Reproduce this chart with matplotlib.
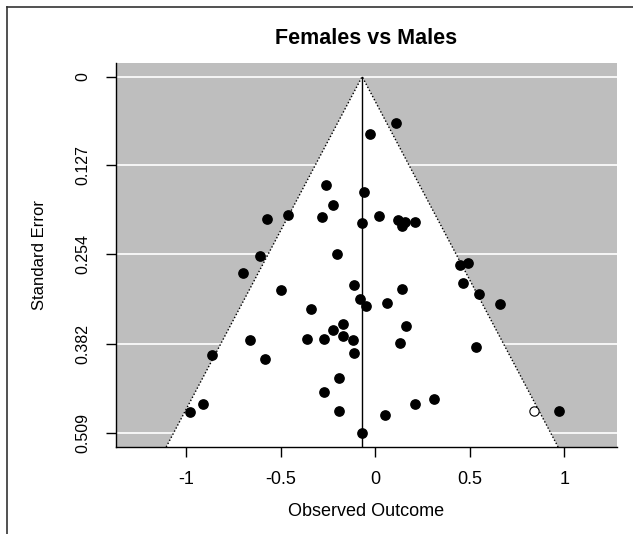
import matplotlib
matplotlib.use("Agg")
from matplotlib import pyplot as plt
from matplotlib.lines import Line2D
import numpy as np

plt.rcParams['font.family'] = ['Liberation Sans', 'DejaVu Sans']

# observed outcomes and standard errors of the studies
effects = [0.110, -0.031, -0.261, -0.062, -0.222, -0.464, -0.575, -0.284, 0.019,
           -0.070, 0.122, 0.140, 0.159, 0.211, -0.201, -0.613, -0.703, 0.449,
           0.490, 0.462, 0.551, 0.662, 0.139, -0.113, -0.502, -0.082, -0.051,
           0.060, -0.343, -0.170, -0.223, -0.171, -0.120, -0.271, -0.361, -0.662,
           0.161, 0.130, 0.531, -0.111, -0.862, -0.583, -0.192, -0.272, -0.911,
           -0.983, -0.192, 0.050, 0.210, 0.311, 0.971, -0.070]
ses = [0.067, 0.082, 0.155, 0.165, 0.184, 0.198, 0.203, 0.200, 0.199,
       0.209, 0.205, 0.213, 0.208, 0.208, 0.253, 0.256, 0.280, 0.269,
       0.266, 0.295, 0.311, 0.325, 0.304, 0.298, 0.305, 0.318, 0.328,
       0.323, 0.332, 0.354, 0.362, 0.370, 0.376, 0.375, 0.375, 0.376,
       0.356, 0.380, 0.386, 0.395, 0.397, 0.403, 0.430, 0.450, 0.468,
       0.479, 0.477, 0.484, 0.467, 0.460, 0.478, 0.509]

# imputed (trim and fill) study
filled_effects = [0.840]
filled_ses = [0.478]

estimate = -0.07
se_max = 0.509
se_ticks = [0, 0.127, 0.254, 0.382, 0.509]
se_ticklabels = ['0', '0.127', '0.254', '0.382', '0.509']
x_ticks = [-1, -0.5, 0, 0.5, 1]
x_ticklabels = ['-1', '-0.5', '0', '0.5', '1']

W, H = 633, 534
fig = plt.figure(figsize=(W / 100, H / 100), dpi=100)
ax = fig.add_axes([116.3 / W, 1 - 447 / H, 500.2 / W, 384 / H])

xlim = (-1.371, 1.276)
ylim = (se_max + 0.0201, -0.0194)
ax.set_xlim(xlim)
ax.set_ylim(ylim)

ax.set_facecolor('#bebebe')
for t in se_ticks:
    ax.axhline(t, color='white', lw=1.2, zorder=1)

# funnel region
y_bot = ylim[0]
half = 1.96 * y_bot
ax.fill([estimate - half, estimate, estimate + half],
        [y_bot, 0, y_bot], color='white', zorder=2, lw=0)
ax.plot([estimate - half, estimate, estimate + half], [y_bot, 0, y_bot],
        color='black', ls=(0, (1, 1.5)), lw=1, zorder=3)
ax.plot([estimate, estimate], [0, y_bot], color='black', lw=1, zorder=3)

ax.plot(effects, ses, 'o', color='black', markersize=6.7, zorder=4)
ax.plot(filled_effects, filled_ses, 'o', markerfacecolor='white',
        markeredgecolor='black', markeredgewidth=0.8, markersize=6.7, zorder=4)

ax.set_xticks(x_ticks)
ax.set_xticklabels(x_ticklabels)
ax.set_yticks(se_ticks)
ax.set_yticklabels(se_ticklabels, rotation=90, va='center')
ax.tick_params(axis='x', length=7.2, width=1, pad=10.2, labelsize=13)
ax.tick_params(axis='y', length=7.2, width=1, pad=11.5, labelsize=11.5)

for s in ['top', 'right']:
    ax.spines[s].set_visible(False)
for s in ['left', 'bottom']:
    ax.spines[s].set_linewidth(1)

ax.set_xlabel('Observed Outcome', fontsize=13, va='center')
ax.xaxis.set_label_coords(0.5, -64 / 384)
ax.set_ylabel('Standard Error', fontsize=12, va='center')
ax.yaxis.set_label_coords(-76.3 / 500.2, 0.5)

fig.text(366 / W, 1 - 39 / H, 'Females vs Males', fontsize=15.5, fontweight='bold',
         ha='center', va='center')

# outer frame of the original figure
fig.add_artist(Line2D([7 / W, 7 / W], [0, 1 - 7 / H], color='#333333', lw=1.2,
                      transform=fig.transFigure))
fig.add_artist(Line2D([7 / W, 1], [1 - 7 / H, 1 - 7 / H], color='#333333', lw=1.2,
                      transform=fig.transFigure))

fig.savefig('out.png', dpi=100)
